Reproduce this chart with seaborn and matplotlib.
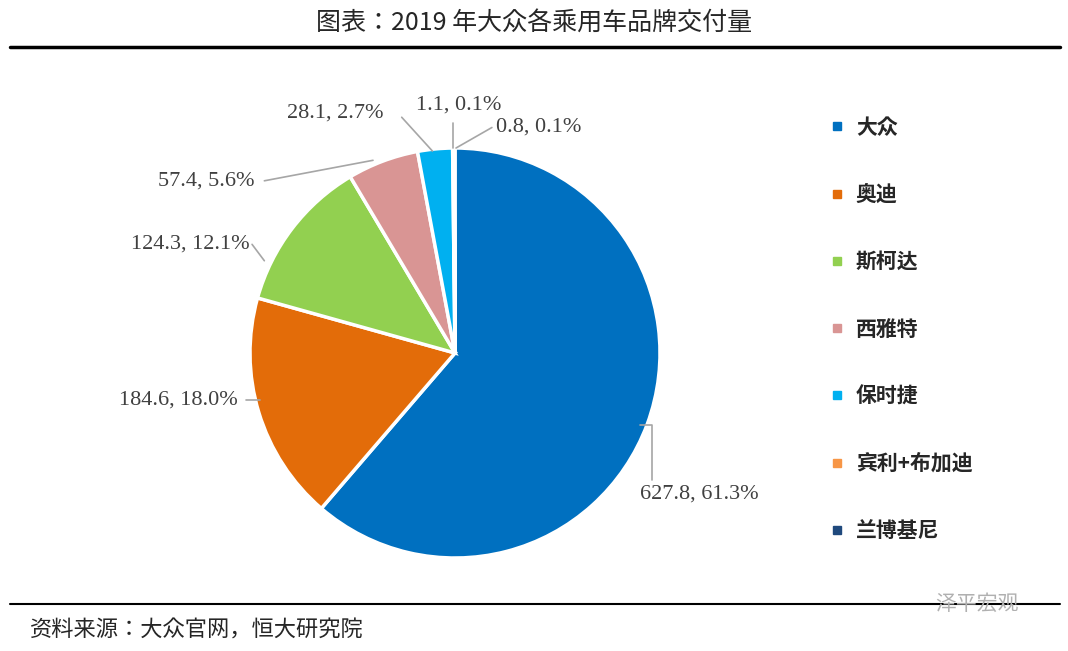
import matplotlib
matplotlib.use("Agg")
import matplotlib.pyplot as plt
import seaborn as sns
from matplotlib.lines import Line2D
from matplotlib import font_manager

sns.set_style("white")

brands = ["大众", "奥迪", "斯柯达", "西雅特", "保时捷", "宾利+布加迪", "兰博基尼"]
deliveries = [627.8, 184.6, 124.3, 57.4, 28.1, 1.1, 0.8]
shares = ["61.3%", "18.0%", "12.1%", "5.6%", "2.7%", "0.1%", "0.1%"]
colors = sns.color_palette(["#0070C0", "#E36C09", "#92D050", "#D99594", "#00B0F0", "#F79646", "#1F497D"])

names = {f.name for f in font_manager.fontManager.ttflist}
cands = [n for n in ["Noto Sans CJK SC", "Noto Sans CJK JP", "Noto Sans CJK TC", "Noto Sans CJK KR"] if n in names]
cjk = cands + ["DejaVu Sans"] if cands else ["DejaVu Sans"]
serif = "Liberation Serif"

fig = plt.figure(figsize=(10.68, 6.51), dpi=100)
r = 205
ax = fig.add_axes([(455 - 1.5 * r) / 1068, 1 - (353 + 1.5 * r) / 651, 3 * r / 1068, 3 * r / 651])
wedges, _ = ax.pie(deliveries, colors=colors, startangle=90, counterclock=False,
                   radius=1, wedgeprops=dict(edgecolor="white", linewidth=2.5))
ax.set_xlim(-1.5, 1.5)
ax.set_ylim(-1.5, 1.5)
ax.set_aspect("equal")
ax.axis("off")

label_specs = [
    ((0.90, -0.35), [(0.96, -0.35), (0.96, -0.62)], (0.90, -0.69), "left"),
    ((-0.95, -0.23), [(-1.02, -0.23)], (-1.06, -0.23), "right"),
    ((-0.93, 0.45), [(-0.99, 0.53)], (-1.00, 0.53), "right"),
    ((-0.40, 0.94), [(-0.93, 0.84)], (-0.98, 0.84), "right"),
    ((-0.11, 0.985), [(-0.26, 1.15)], (-0.35, 1.17), "right"),
    ((-0.01, 1.0), [(-0.01, 1.12)], (0.02, 1.21), "center"),
    ((0.005, 1.0), [(0.18, 1.10)], (0.20, 1.10), "left"),
]
for v, s, (start, pts, tpos, ha) in zip(deliveries, shares, label_specs):
    xs = [start[0]] + [p[0] for p in pts]
    ys = [start[1]] + [p[1] for p in pts]
    ax.plot(xs, ys, color="#A6A6A6", lw=1.2, clip_on=False)
    ax.text(tpos[0], tpos[1], f"{v}, {s}", ha=ha, va="center", fontsize=16,
            family=serif, color="#404040", clip_on=False)

handles = [Line2D([0], [0], marker="s", linestyle="none", markersize=6,
                  markerfacecolor=c, markeredgecolor=c) for c in colors]
fig.legend(handles, brands, loc="upper left", bbox_to_anchor=(810 / 1068, 1 - 98 / 651),
           frameon=False, prop=dict(family=cjk, size=15, weight="bold"),
           labelspacing=2.22, handletextpad=0.5, handlelength=0.8)

fig.text(0.5, 1 - 24 / 651, "图表：2019 年大众各乘用车品牌交付量", ha="center", va="center",
         fontsize=18, family=cjk)
fig.add_artist(Line2D([10 / 1068, 1060 / 1068], [1 - 47 / 651] * 2, color="black", lw=2.5))
fig.add_artist(Line2D([10 / 1068, 1060 / 1068], [1 - 604 / 651] * 2, color="black", lw=1.5))
fig.text(30 / 1068, 1 - 630 / 651, "资料来源：大众官网，恒大研究院", ha="left", va="center",
         fontsize=16, family=cjk, style="italic")
fig.text(935 / 1068, 1 - 604 / 651, "泽平宏观", ha="left", va="center", fontsize=15,
         family=cjk, color="#B0B0B0")

fig.savefig("out.png", dpi=100, facecolor="white")
